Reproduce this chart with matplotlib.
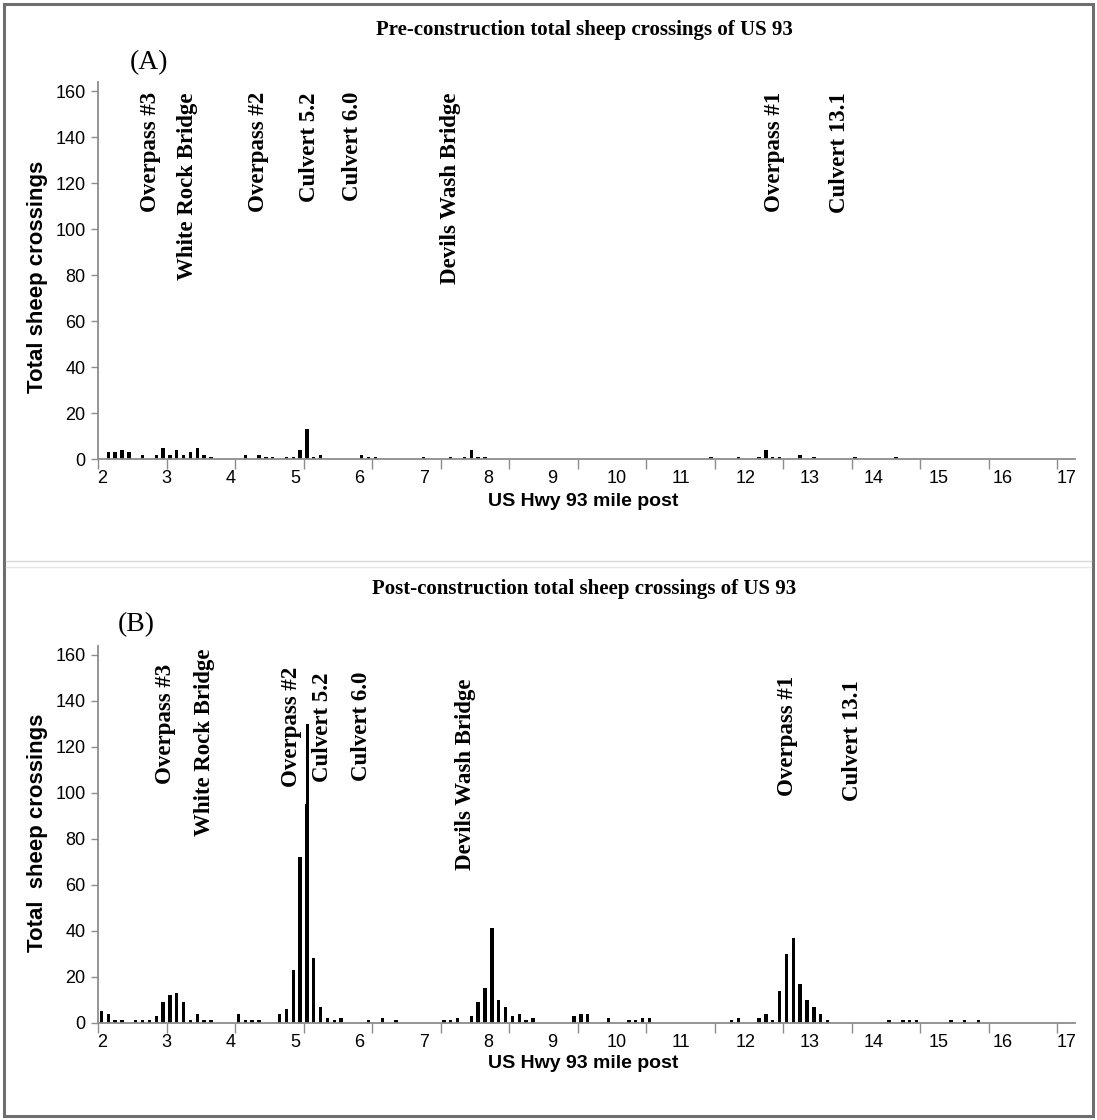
import matplotlib
matplotlib.use("Agg")
import matplotlib.pyplot as plt
from matplotlib.patches import Rectangle
from matplotlib.lines import Line2D

# ---------------- data ----------------
pre_mile = [2.15, 2.25, 2.35, 2.45, 2.65, 2.85, 2.95, 3.05, 3.15, 3.25, 3.35, 3.45, 3.55, 3.65,
            4.15, 4.35, 4.45, 4.55, 4.75, 4.85, 4.95, 5.05, 5.15, 5.25, 5.85, 5.95, 6.05,
            6.75, 7.15, 7.35, 7.45, 7.55, 7.65, 10.95, 11.35, 11.65, 11.75, 11.85, 11.95,
            12.25, 12.45, 13.05, 13.65]
pre_count = [3, 3, 4, 3, 2, 2, 5, 2, 4, 2, 3, 5, 2, 1,
             2, 2, 1, 1, 1, 1, 4, 13, 1, 2, 2, 1, 1,
             1, 1, 1, 4, 1, 1, 1, 1, 1, 4, 1, 1,
             2, 1, 1, 1]

post_mile = [2.05, 2.15, 2.25, 2.35, 2.55, 2.65, 2.75, 2.85, 2.95, 3.05, 3.15, 3.25, 3.35, 3.45,
             3.55, 3.65, 4.05, 4.15, 4.25, 4.35, 4.65, 4.75, 4.85, 4.95, 5.04, 5.06, 5.15,
             5.25, 5.35, 5.45, 5.55, 5.95, 6.15, 6.35, 7.05, 7.15, 7.25, 7.45, 7.55, 7.65,
             7.75, 7.85, 7.95, 8.05, 8.15, 8.25, 8.35, 8.95, 9.05, 9.15, 9.45, 9.75, 9.85,
             9.95, 10.05, 11.25, 11.35, 11.65, 11.75, 11.85, 11.95, 12.05, 12.15, 12.25,
             12.35, 12.45, 12.55, 12.65, 13.55, 13.75, 13.85, 13.95, 14.45, 14.65, 14.85]
post_count = [5, 4, 1, 1, 1, 1, 1, 3, 9, 12, 13, 9, 1, 4,
              1, 1, 4, 1, 1, 1, 4, 6, 23, 72, 95, 130, 28,
              7, 2, 1, 2, 1, 2, 1, 1, 1, 2, 3, 9, 15,
              41, 10, 7, 3, 4, 1, 2, 3, 4, 4, 2, 1, 1,
              2, 2, 1, 2, 2, 4, 1, 14, 30, 37, 17,
              10, 7, 4, 1, 1, 1, 1, 1, 1, 1, 1]

structures = ["Overpass #3", "White Rock Bridge", "Overpass #2", "Culvert 5.2",
              "Culvert 6.0", "Devils Wash Bridge", "Overpass #1", "Culvert 13.1"]
struct_x_pre = [2.76, 3.31, 4.34, 5.09, 5.71, 7.14, 11.88, 12.83]
struct_x_post = [2.98, 3.56, 4.83, 5.28, 5.85, 7.36, 12.07, 13.01]

tick_miles = list(range(2, 17))          # tick marks on the axis
tick_text = [str(v) for v in range(2, 18)]  # labels printed under the axis
y_ticks = [0, 20, 40, 60, 80, 100, 120, 140, 160]

titles = ["Pre-construction total sheep crossings of US 93",
          "Post-construction total sheep crossings of US 93"]
panel_tags = ["(A)", "(B)"]
ylabels = ["Total sheep crossings", "Total  sheep crossings"]
xlabel = "US Hwy 93 mile post"

# ---------------- figure ----------------
W, H = 1097, 1120
fig = plt.figure(figsize=(W / 100, H / 100), dpi=100)
fig.patch.set_facecolor("white")

sans = ["Liberation Sans Narrow", "Liberation Sans", "DejaVu Sans"]
serif = ["Liberation Serif", "DejaVu Serif"]
grey = "#8c8c8c"

def px(x, y):
    return x / W, 1 - y / H

# outer frame and panel separator
fig.add_artist(Rectangle((4 / W, 4 / H), (W - 8) / W, (H - 8) / H, transform=fig.transFigure,
                         fill=False, edgecolor="#6e6e6e", linewidth=2.2))
fig.add_artist(Line2D([6 / W, (W - 6) / W], [1 - 561 / H, 1 - 561 / H], transform=fig.transFigure,
                      color="#d8d8d8", linewidth=1.0))
fig.add_artist(Line2D([6 / W, (W - 6) / W], [1 - 567 / H, 1 - 567 / H], transform=fig.transFigure,
                      color="#e6e6e6", linewidth=1.0))

panels = [
    dict(base=459.3, title_y=30, tag_xy=(149, 63), ylab_y=277, xlab_y=501,
         mile=pre_mile, count=pre_count, sx=struct_x_pre,
         stops=[92, 92, 92, 92, 92, 92, 92, 92]),
    dict(base=1022.7, title_y=589, tag_xy=(136, 625), ylab_y=833, xlab_y=1064,
         mile=post_mile, count=post_count, sx=struct_x_post,
         stops=[664, 648, 667, 672, 672, 678, 676, 680]),
]

left_px, right_px = 98, 1075
ppm = 68.5  # pixels per mile
ppu = 2.3   # pixels per crossing
ytop = 164
# label positions under the axis: evenly spread from x=102 px to x=1067 px
lab_step = (1067 - 102) / (len(tick_text) - 1)

for i, p in enumerate(panels):
    top_px = p["base"] - ytop * ppu
    l, b = left_px / W, 1 - p["base"] / H
    ax = fig.add_axes([l, b, (right_px - left_px) / W, (p["base"] - top_px) / H])
    ax.bar(p["mile"], p["count"], width=0.05, color="black", linewidth=0)
    ax.set_xlim(2, 2 + (right_px - left_px) / ppm)
    ax.set_ylim(0, ytop)
    ax.set_xticks(tick_miles)
    ax.set_xticklabels([])
    lab_pos = [2 + (102 - left_px + k * lab_step) / ppm for k in range(len(tick_text))]
    ax.set_xticks(lab_pos, minor=True)
    ax.set_xticklabels(tick_text, minor=True)
    ax.set_yticks(y_ticks)
    for s in ["top", "right"]:
        ax.spines[s].set_visible(False)
    for s in ["left", "bottom"]:
        ax.spines[s].set_color(grey)
        ax.spines[s].set_linewidth(1.3)
    ax.tick_params(axis="both", which="major", colors=grey, direction="out", width=1.0)
    ax.tick_params(axis="x", which="major", length=7)
    ax.tick_params(axis="x", which="minor", length=0, pad=8, labelcolor="black")
    ax.tick_params(axis="y", length=5, pad=4)
    for lab in ax.get_xticklabels(minor=True) + ax.get_yticklabels():
        lab.set_color("black")
        lab.set_family(sans)
        lab.set_fontsize(13)
    ax.patch.set_alpha(0)

    # structure labels
    for name, xs, st in zip(structures, p["sx"], p["stops"]):
        xf = (left_px + (xs - 2) * ppm) / W
        fig.text(xf, 1 - st / H, name, rotation=90, ha="center", va="top",
                 family=serif, fontweight="bold", fontsize=16.5)

    fig.text(*px(584, p["title_y"]), titles[i], ha="center", va="center",
             family=serif, fontweight="bold", fontsize=15)
    fig.text(*px(*p["tag_xy"]), panel_tags[i], ha="center", va="center",
             family=serif, fontsize=20)
    fig.text(*px(38, p["ylab_y"]), ylabels[i], rotation=90, ha="center", va="center",
             family=sans, fontweight="bold", fontsize=16)
    fig.text(*px(583, p["xlab_y"]), xlabel, ha="center", va="center",
             family=sans, fontweight="bold", fontsize=14)

fig.savefig("out.png", dpi=100)
